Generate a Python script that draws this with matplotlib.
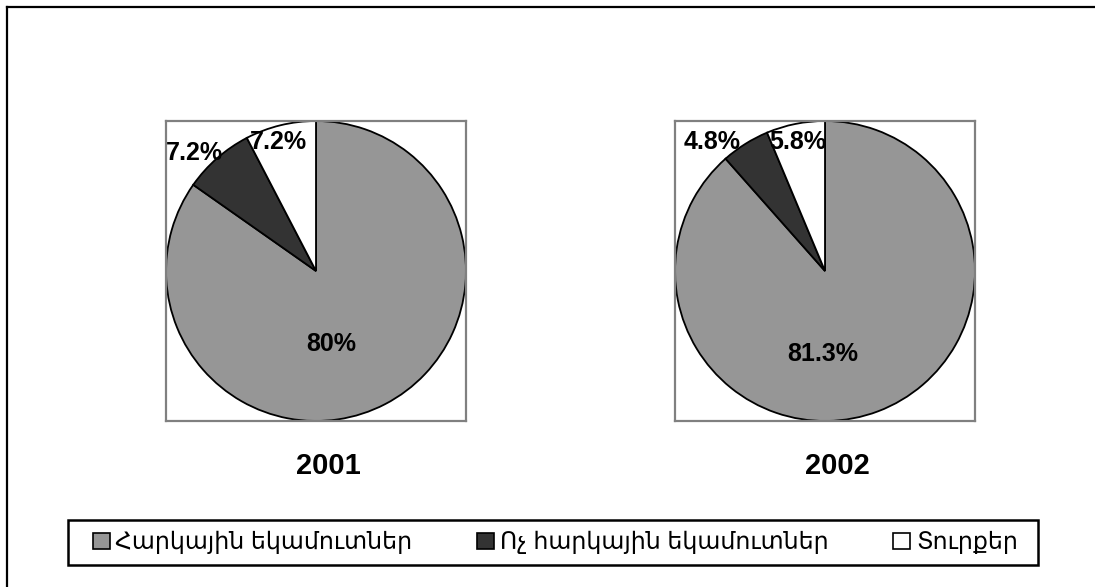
import matplotlib
matplotlib.use("Agg")
import matplotlib.pyplot as plt
from matplotlib.patches import Patch, Rectangle
from matplotlib.lines import Line2D

# Revenue structure shares, %
categories = ["Հարկային եկամուտներ", "Ոչ հարկային եկամուտներ", "Տուրքեր"]
years = ["2001", "2002"]
shares_2001 = [80.0, 7.2, 7.2]
shares_2002 = [81.3, 4.8, 5.8]
colors = ["#969696", "#333333", "#ffffff"]

W, H = 1095, 587
fig = plt.figure(figsize=(W / 100, H / 100), dpi=100)
fig.patch.set_facecolor("white")

def fx(px):
    return px / W

def fy(py):
    return 1 - py / H

# outer chart frame (left and top edges)
fig.add_artist(Line2D([fx(6.5), fx(6.5)], [fy(6.5), 0], color="black", lw=1.6))
fig.add_artist(Line2D([fx(6.5), 1], [fy(6.5), fy(6.5)], color="black", lw=1.6))

# plot area boxes (left, top in pixels) and label offsets within each pie
boxes = [(166, 121), (675, 121)]
label_pos = [
    [(0.104, -0.487), (-0.813, 0.79), (-0.251, 0.862)],
    [(-0.017, -0.553), (-0.75, 0.857), (-0.183, 0.857)],
]
side = 300
bold = dict(fontweight="bold", family=["Liberation Sans", "DejaVu Sans"], color="black")

for (bx, by), year, vals, lpos in zip(boxes, years, [shares_2001, shares_2002], label_pos):
    ax = fig.add_axes([fx(bx), fy(by + side), side / W, side / H])
    ax.pie(vals, colors=colors, startangle=90, counterclock=False,
           wedgeprops=dict(edgecolor="black", linewidth=1.3), radius=1.0)
    ax.set_xlim(-1.0, 1.0)
    ax.set_ylim(-1.0, 1.0)
    ax.set_aspect("auto")
    ax.set_frame_on(True)
    ax.set_xticks([])
    ax.set_yticks([])
    for s in ax.spines.values():
        s.set_visible(True)
        s.set_color("#808080")
        s.set_linewidth(1.6)
    for v, (lx, ly) in zip(vals, lpos):
        ax.text(lx, ly, f"{v:g}%", ha="center", va="center", fontsize=18, zorder=5, **bold)
    fig.text(fx(bx + side / 2 + 12), fy(466), year, ha="center", va="center",
             fontsize=21, **bold)

# legend frame
fig.add_artist(Rectangle((fx(68), fy(565)), fx(1038) - fx(68), 45 / H,
                         transform=fig.transFigure, facecolor="white",
                         edgecolor="black", linewidth=1.8, zorder=1))

handles = [Patch(facecolor=c, edgecolor="black", linewidth=1.2) for c in colors]
leg = fig.legend(handles, categories, loc="center left", ncol=3,
                 bbox_to_anchor=(fx(93), fy(542.5)),
                 borderaxespad=0.0, borderpad=0.0, frameon=False,
                 handlelength=0.7, handleheight=0.7, handletextpad=0.25,
                 columnspacing=2.75,
                 prop=dict(family=["Liberation Sans", "DejaVu Sans"], size=17))
leg.set_zorder(2)

fig.savefig("out.png", dpi=100, facecolor="white")
